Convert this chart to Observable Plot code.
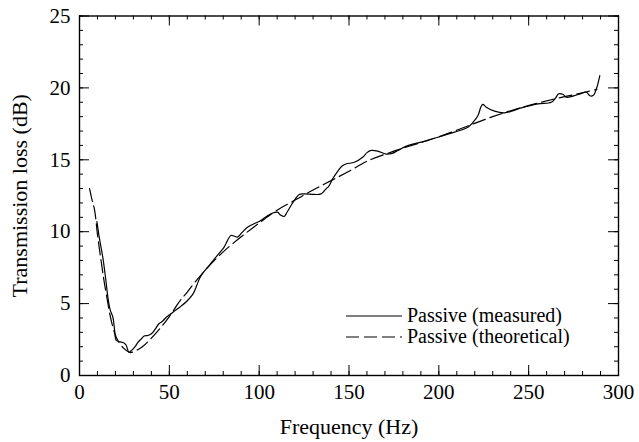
<!DOCTYPE html>
<html>
<head>
<meta charset="utf-8">
<script src="https://cdn.jsdelivr.net/npm/d3@7"></script>
<script src="https://cdn.jsdelivr.net/npm/@observablehq/plot@0.6"></script>
<style>
  html, body { margin: 0; padding: 0; background: #fff; }
  #wrap { position: relative; width: 639px; height: 442px; font-family: "Liberation Serif", "DejaVu Serif", "Times New Roman", Times, serif; }
  #wrap svg, #wrap svg text { font-family: "Liberation Serif", "DejaVu Serif", "Times New Roman", Times, serif !important; }
  #legend { position: absolute; left: 0; top: 0; pointer-events: none; }
</style>
</head>
<body>
<div id="wrap"></div>
<script>
// Measured transmission loss (solid)
const measuredFreq = [9.7, 11, 13, 14.5, 15.8, 17, 18.6, 19.5, 20.4, 22, 23.2, 25, 26, 27.5, 29, 30.7, 32.5, 34.4, 36, 38, 40, 42, 44.2, 46, 48.3, 52, 55.8, 60, 63.2, 67.5, 72.5, 75, 80.5, 84.2, 86, 87.9, 90.5, 93.5, 100.9, 104, 107.5, 110.2, 112, 113.9, 115.5, 117.7, 120, 122.3, 125.1, 130.6, 134.4, 137, 139, 141, 143.7, 146, 148.3, 153, 157.6, 160, 162.3, 166, 170.6, 174, 177.2, 182.7, 190.2, 199.5, 208.7, 216.2, 219, 221.8, 223.5, 224.5, 226.4, 231, 236.6, 245.9, 255.2, 262.6, 265, 266.7, 269.2, 271, 277.5, 282.2, 284, 285.9, 287.7, 289.6];
const measuredTL = [10.7, 9.6, 8.2, 6.8, 5.45, 4.6, 4.05, 3.2, 2.45, 2.35, 2.32, 2.25, 2.1, 1.62, 1.75, 1.97, 2.3, 2.55, 2.75, 2.78, 2.9, 3.2, 3.6, 3.75, 4.05, 4.4, 4.75, 5.2, 5.68, 6.9, 7.7, 8.1, 8.93, 9.74, 9.7, 9.62, 9.95, 10.31, 10.78, 11.05, 11.3, 11.36, 11.15, 11.06, 11.35, 11.82, 12.25, 12.59, 12.63, 12.59, 12.63, 12.95, 13.21, 13.7, 14.2, 14.55, 14.71, 14.83, 15.18, 15.5, 15.65, 15.6, 15.4, 15.45, 15.65, 15.99, 16.23, 16.57, 16.92, 17.27, 17.6, 18.08, 18.7, 18.85, 18.66, 18.38, 18.26, 18.61, 18.89, 19.0, 19.3, 19.59, 19.54, 19.35, 19.54, 19.7, 19.45, 19.47, 19.94, 20.86];

// Theoretical transmission loss (dashed)
const theoFreq = [5.6, 7, 8.4, 10.2, 12, 13.5, 15, 17, 18.6, 20, 22, 25, 28, 30, 35, 40, 45, 50, 56, 60, 65, 72, 80, 90, 100, 110, 120, 130, 140, 150, 160, 175, 190, 200, 215, 230, 245, 265, 278, 288];
const theoTL = [13.0, 12.2, 11.5, 9.6, 8.0, 6.7, 5.6, 4.2, 3.36, 2.8, 2.3, 1.85, 1.6, 1.65, 2.0, 2.6, 3.3, 4.1, 5.2, 5.8, 6.6, 7.6, 8.6, 9.65, 10.6, 11.5, 12.2, 12.9, 13.55, 14.2, 14.9, 15.6, 16.2, 16.6, 17.3, 18.0, 18.6, 19.25, 19.6, 19.9];

const xMajor = [0, 50, 100, 150, 200, 250, 300];
const xMinor = d3.range(0, 301, 10);
const yMajor = [0, 5, 10, 15, 20, 25];
const yMinor = d3.range(0, 26, 1);

const seriesNames = ["Passive (measured)", "Passive (theoretical)"];

const measured = measuredFreq.map((f, i) => ({f, v: measuredTL[i]}));
const theo = theoFreq.map((f, i) => ({f, v: theoTL[i]}));

const W = 639, H = 442;
const mL = 79, mR = 21, mT = 15.5, mB = 67;
const pw = W - mL - mR, ph = H - mT - mB;
const font = '"Liberation Serif", "DejaVu Serif", "Times New Roman", Times, serif';
const majorLen = 10, minorLen = 4;

const chart = Plot.plot({
  width: W, height: H,
  marginLeft: mL, marginRight: mR, marginTop: mT, marginBottom: mB,
  style: {fontFamily: font, fontSize: "21px", color: "#000", background: "#fff"},
  x: {domain: [0, 300]},
  y: {domain: [0, 25]},
  marks: [
    // ticks (inward, on all four sides)
    Plot.tickX(xMinor, {x: d => d, insetTop: ph - minorLen, stroke: "#000", strokeWidth: 1}),
    Plot.tickX(xMinor, {x: d => d, insetBottom: ph - minorLen, stroke: "#000", strokeWidth: 1}),
    Plot.tickX(xMajor, {x: d => d, insetTop: ph - majorLen, stroke: "#000", strokeWidth: 1}),
    Plot.tickX(xMajor, {x: d => d, insetBottom: ph - majorLen, stroke: "#000", strokeWidth: 1}),
    Plot.tickY(yMinor, {y: d => d, insetRight: pw - minorLen, stroke: "#000", strokeWidth: 1}),
    Plot.tickY(yMinor, {y: d => d, insetLeft: pw - minorLen, stroke: "#000", strokeWidth: 1}),
    Plot.tickY(yMajor, {y: d => d, insetRight: pw - majorLen, stroke: "#000", strokeWidth: 1}),
    Plot.tickY(yMajor, {y: d => d, insetLeft: pw - majorLen, stroke: "#000", strokeWidth: 1}),
    Plot.axisX(xMajor, {tickSize: 0, tickPadding: 9, label: null, fontSize: 21, fontFamily: font}),
    Plot.axisY(yMajor, {tickSize: 0, tickPadding: 9, label: null, fontSize: 21, fontFamily: font}),
    Plot.axisX({tickSize: 0, ticks: [], label: "Frequency (Hz)", labelAnchor: "center", labelOffset: 58, labelArrow: "none", fontSize: 22, fontFamily: font}),
    Plot.axisY({tickSize: 0, ticks: [], label: "Transmission loss (dB)", labelAnchor: "center", labelOffset: 68, labelArrow: "none", fontSize: 22, fontFamily: font}),
    Plot.line(theo, {x: "f", y: "v", stroke: "#000", strokeWidth: 1.2, strokeDasharray: "13,5", curve: "catmull-rom"}),
    Plot.line(measured, {x: "f", y: "v", stroke: "#000", strokeWidth: 1.2, curve: "catmull-rom"}),
    Plot.frame({stroke: "#000", strokeWidth: 1.4})
  ]
});

const wrap = document.getElementById("wrap");
wrap.appendChild(chart);

// Legend overlay
const lg = d3.create("svg").attr("id", "legend").attr("width", W).attr("height", H)
  .attr("font-family", font).attr("font-size", 20);
const rows = [
  {name: seriesNames[0], dash: null, ly: 316, ty: 321.5},
  {name: seriesNames[1], dash: "13,5", ly: 337, ty: 342.5}
];
for (const r of rows) {
  lg.append("line").attr("x1", 346).attr("x2", 402).attr("y1", r.ly).attr("y2", r.ly)
    .attr("stroke", "#000").attr("stroke-width", 1.2)
    .attr("stroke-dasharray", r.dash);
  lg.append("text").attr("x", 407).attr("y", r.ty).attr("fill", "#000").text(r.name);
}
wrap.appendChild(lg.node());
</script>
</body>
</html>
